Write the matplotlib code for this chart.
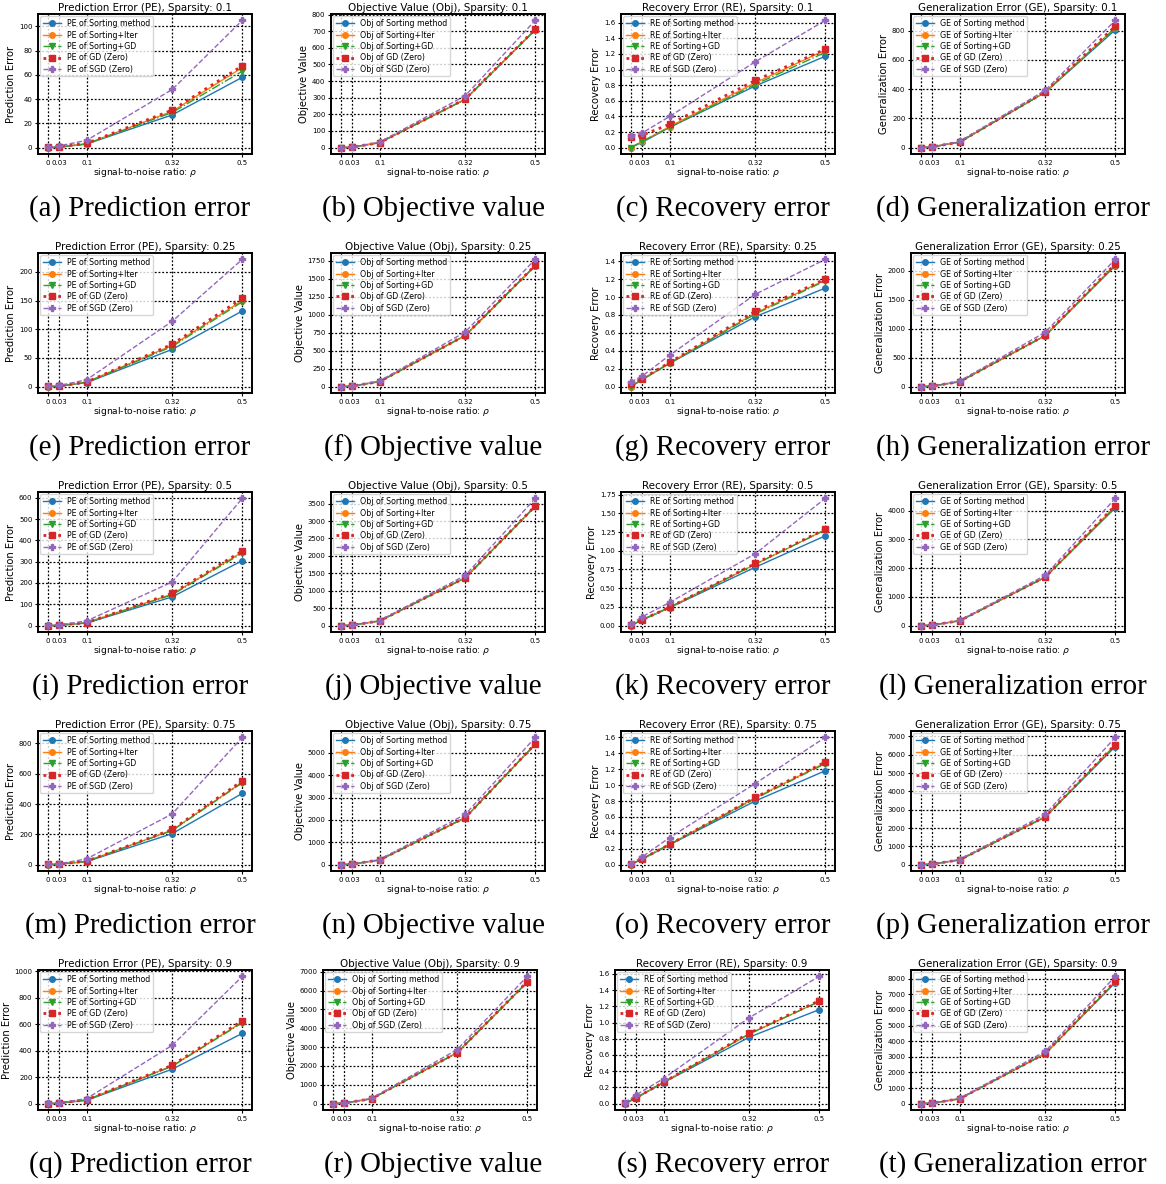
import matplotlib
matplotlib.use("Agg")
import matplotlib.pyplot as plt

snr = [0, 0.03, 0.1, 0.32, 0.5]
snr_labels = ["0", "0.03", "0.1", "0.32", "0.5"]
sparsities = ["0.1", "0.25", "0.5", "0.75", "0.9"]
methods = ["Sorting method", "Sorting+Iter", "Sorting+GD", "GD (Zero)", "SGD (Zero)"]

# rows: sorting, sorting+iter, sorting+gd, gd(zero), sgd(zero)
pe_01 = [[0, 0.5, 3, 27, 58], [0, 0.6, 3.2, 30, 66], [0, 0.5, 3, 29, 63],
         [0.3, 0.8, 3.5, 31, 67.5], [0.5, 1.5, 6, 48, 105]]
pe_025 = [[0, 0.8, 7, 65, 132], [0, 1, 8, 72, 150], [0, 1, 7.5, 70, 148],
          [0.3, 1.2, 8, 74, 154], [0.5, 2, 12, 114, 222]]
pe_05 = [[0, 2, 12, 135, 305], [0, 2, 14, 148, 345], [0, 2, 13, 145, 340],
         [0.5, 2.5, 14, 152, 350], [1, 4, 22, 205, 597]]
pe_075 = [[0, 3, 20, 205, 470], [0, 3.5, 22, 228, 545], [0, 3.5, 22, 225, 540],
          [1, 4, 23, 232, 553], [1.5, 6, 38, 335, 840]]
pe_09 = [[0, 3, 25, 260, 530], [0, 4, 28, 285, 615], [0, 4, 27, 282, 610],
         [1, 5, 29, 290, 625], [2, 7, 38, 440, 960]]

obj_01 = [[0, 3, 30, 290, 708], [0, 3, 30, 291, 710], [0, 3, 30, 290, 709],
          [0, 3, 30, 292, 712], [0, 4, 33, 312, 765]]
obj_025 = [[0, 8, 70, 710, 1680], [0, 8, 70, 712, 1685], [0, 8, 70, 711, 1683],
           [0, 8, 71, 712, 1688], [0, 10, 78, 760, 1770]]
obj_05 = [[0, 15, 135, 1370, 3420], [0, 15, 135, 1372, 3430], [0, 15, 135, 1371, 3425],
          [0, 15, 136, 1375, 3435], [0, 18, 145, 1440, 3650]]
obj_075 = [[0, 25, 210, 2100, 5390], [0, 25, 210, 2105, 5400], [0, 25, 210, 2102, 5395],
           [0, 25, 212, 2108, 5410], [0, 30, 225, 2250, 5700]]
obj_09 = [[0, 30, 260, 2700, 6440], [0, 30, 260, 2705, 6450], [0, 30, 260, 2702, 6445],
          [0, 30, 262, 2710, 6470], [0, 35, 280, 2870, 6750]]

re_01 = [[0, 0.07, 0.26, 0.79, 1.17], [0, 0.08, 0.27, 0.83, 1.25], [0, 0.08, 0.26, 0.81, 1.22],
         [0.13, 0.16, 0.30, 0.86, 1.26], [0.15, 0.19, 0.40, 1.10, 1.63]]
re_025 = [[0, 0.08, 0.26, 0.78, 1.10], [0, 0.085, 0.265, 0.82, 1.19], [0, 0.08, 0.26, 0.81, 1.18],
          [0.03, 0.09, 0.27, 0.84, 1.20], [0.05, 0.12, 0.35, 1.03, 1.42]]
re_05 = [[0, 0.075, 0.24, 0.78, 1.20], [0, 0.08, 0.245, 0.82, 1.28], [0, 0.08, 0.245, 0.82, 1.28],
         [0.01, 0.08, 0.245, 0.83, 1.29], [0.02, 0.12, 0.31, 0.96, 1.70]]
re_075 = [[0, 0.07, 0.25, 0.80, 1.18], [0, 0.075, 0.255, 0.84, 1.28], [0, 0.075, 0.255, 0.83, 1.27],
          [0.01, 0.075, 0.255, 0.845, 1.29], [0.01, 0.10, 0.34, 1.02, 1.60]]
re_09 = [[0, 0.07, 0.26, 0.82, 1.16], [0, 0.075, 0.265, 0.86, 1.26], [0, 0.075, 0.265, 0.86, 1.26],
         [0.005, 0.075, 0.265, 0.87, 1.27], [0.01, 0.11, 0.31, 1.06, 1.57]]

ge_01 = [[0, 5, 38, 378, 805], [0, 5, 38, 380, 820], [0, 5, 38, 379, 815],
         [0, 5, 39, 382, 830], [0, 5, 42, 392, 870]]
ge_025 = [[0, 10, 85, 880, 2090], [0, 10, 85, 885, 2110], [0, 10, 85, 882, 2100],
          [0, 10, 86, 888, 2120], [0, 12, 95, 940, 2200]]
ge_05 = [[0, 20, 170, 1680, 4100], [0, 20, 170, 1690, 4150], [0, 20, 170, 1685, 4130],
         [0, 20, 172, 1695, 4180], [0, 22, 180, 1750, 4430]]
ge_075 = [[0, 30, 260, 2600, 6450], [0, 30, 260, 2610, 6550], [0, 30, 260, 2605, 6500],
          [0, 30, 262, 2615, 6560], [0, 35, 280, 2750, 6950]]
ge_09 = [[0, 35, 310, 3200, 7750], [0, 35, 310, 3210, 7800], [0, 35, 310, 3205, 7780],
         [0, 35, 312, 3220, 7850], [0, 40, 330, 3350, 8150]]

metrics = [
    ("PE", "Prediction Error (PE)", "Prediction Error", "Prediction error",
     [pe_01, pe_025, pe_05, pe_075, pe_09]),
    ("Obj", "Objective Value (Obj)", "Objective Value", "Objective value",
     [obj_01, obj_025, obj_05, obj_075, obj_09]),
    ("RE", "Recovery Error (RE)", "Recovery Error", "Recovery error",
     [re_01, re_025, re_05, re_075, re_09]),
    ("GE", "Generalization Error (GE)", "Generalization Error", "Generalization error",
     [ge_01, ge_025, ge_05, ge_075, ge_09]),
]

styles = [
    dict(color="#1f77b4", linestyle="-", marker="o", lw=1.0),
    dict(color="#ff7f0e", linestyle="-", marker="o", lw=1.0),
    dict(color="#2ca02c", linestyle="-.", marker="v", lw=1.0),
    dict(color="#d62728", linestyle=":", marker="s", lw=2.0),
    dict(color="#9467bd", linestyle="--", marker="P", lw=1.0),
]

W, H = 1166, 1184
fig = plt.figure(figsize=(W / 100, H / 100), dpi=100)

col_left = [38, 331, 621, 911]
col_left_last = [38, 323, 615, 911]
row_top = [14, 253, 492, 731, 970]
ax_w, ax_h = 214, 140
letters = "abcdefghijklmnopqrst"

for r, sp in enumerate(sparsities):
    for c, (abbr, title, ylab, cap, data) in enumerate(metrics):
        left = col_left_last[c] if r == 4 else col_left[c]
        top = row_top[r]
        ax = fig.add_axes([left / W, 1 - (top + ax_h) / H, ax_w / W, ax_h / H])
        vals = data[r]
        for m, name in enumerate(methods):
            st = styles[m]
            ax.plot(snr, vals[m], color=st["color"], linestyle=st["linestyle"],
                    marker=st["marker"], lw=st["lw"], markersize=4,
                    label=f"{abbr} of {name}")
        ax.set_xticks(snr)
        ax.set_xticklabels(snr_labels)
        ax.tick_params(labelsize=5, length=2.5, width=0.8, pad=1.5)
        ax.grid(True, color="black", linestyle=(0, (1.5, 1.5)), linewidth=0.9)
        for s in ax.spines.values():
            s.set_linewidth(1.4)
        ax.set_title(f"{title}, Sparsity: {sp}", fontsize=7.4, pad=2)
        ax.set_xlabel(r"signal-to-noise ratio: $\rho$", fontsize=6.6, labelpad=0.5)
        ax.set_ylabel(ylab, fontsize=7.2, labelpad=2)
        ax.legend(loc="upper left", fontsize=5.7, borderaxespad=0.3,
                  handlelength=2.2, labelspacing=0.3, borderpad=0.35,
                  framealpha=0.8)
        cx = (col_left[c] + ax_w / 2 - 5) / W
        fig.text(cx, 1 - (top + 195) / H, f"({letters[r * 4 + c]}) {cap}",
                 ha="center", va="center", fontsize=20.8,
                 family="Liberation Serif")

fig.savefig("out.png", dpi=100)
